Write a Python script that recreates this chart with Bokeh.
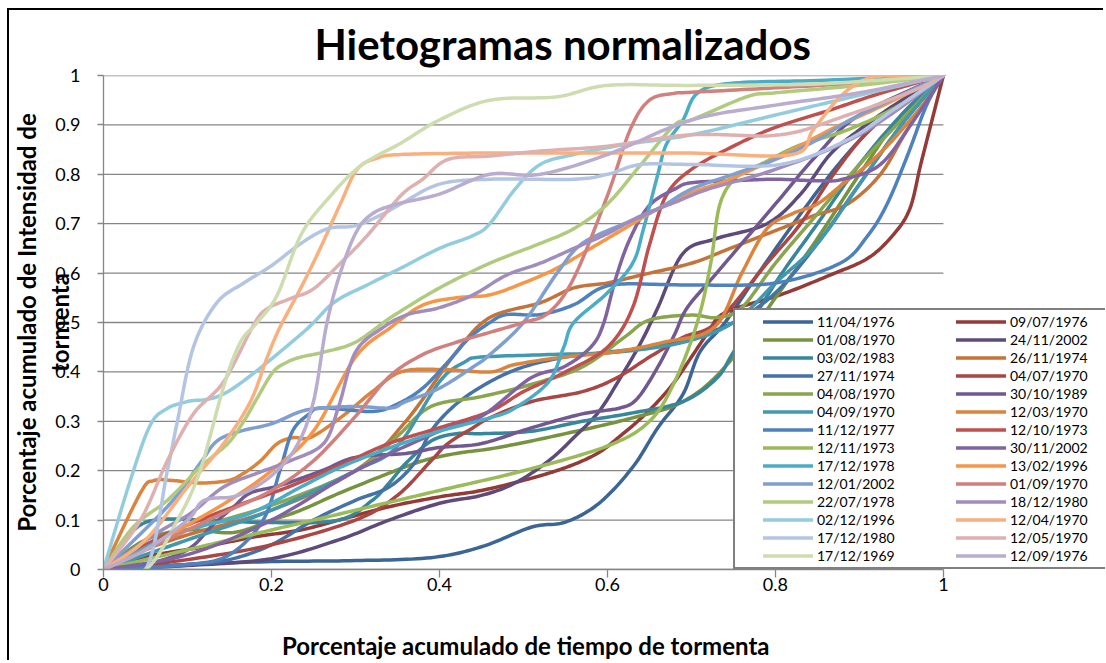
import numpy as np
from bokeh.plotting import figure
from bokeh.models import Range1d, FixedTicker, Legend, LegendItem
from bokeh.embed import file_html
from bokeh.resources import INLINE

TITLE = "Hietogramas normalizados"
X_LABEL = "Porcentaje acumulado de tiempo de tormenta"
Y_LABEL = "Porcentaje acumulado de Intensidad de\ntormenta"

x_ticks = [0, 0.2, 0.4, 0.6, 0.8, 1]
x_tick_labels = ["0", "0.2", "0.4", "0.6", "0.8", "1"]
y_ticks = [0, 0.1, 0.2, 0.3, 0.4, 0.5, 0.6, 0.7, 0.8, 0.9, 1]
y_tick_labels = ["0", "0.1", "0.2", "0.3", "0.4", "0.5", "0.6", "0.7", "0.8", "0.9", "1"]

# ---- series (storm date, colour, cumulative time, cumulative intensity) ----
x_s01 = [0, 0.05, 0.1, 0.2, 0.3, 0.39, 0.45, 0.51, 0.55, 0.59, 0.63, 0.66, 0.69, 0.71, 0.74, 0.78, 0.83, 0.88, 0.93, 0.97, 1]
y_s01 = [0, 0.005, 0.01, 0.016, 0.018, 0.024, 0.046, 0.086, 0.096, 0.134, 0.207, 0.287, 0.355, 0.44, 0.5, 0.6, 0.72, 0.83, 0.92, 0.97, 1]
x_s02 = [0, 0.05, 0.12, 0.18, 0.235, 0.28, 0.34, 0.4, 0.45, 0.51, 0.556, 0.59, 0.615, 0.636, 0.66, 0.68, 0.70, 0.72, 0.74, 0.806, 0.865, 0.91, 0.94, 0.96, 0.973, 0.988, 1]
y_s02 = [0, 0.026, 0.046, 0.066, 0.08, 0.10, 0.127, 0.147, 0.16, 0.185, 0.21, 0.237, 0.27, 0.30, 0.34, 0.38, 0.43, 0.48, 0.52, 0.556, 0.596, 0.63, 0.677, 0.73, 0.82, 0.92, 1]
x_s03 = [0, 0.05, 0.1, 0.155, 0.2, 0.235, 0.28, 0.34, 0.38, 0.42, 0.47, 0.55, 0.63, 0.69, 0.74, 0.8, 0.85, 0.9, 0.95, 1]
y_s03 = [0, 0.06, 0.08, 0.075, 0.1, 0.12, 0.154, 0.195, 0.22, 0.235, 0.247, 0.275, 0.307, 0.34, 0.41, 0.55, 0.67, 0.8, 0.92, 1]
x_s04 = [0, 0.1, 0.2, 0.28, 0.34, 0.4, 0.45, 0.49, 0.53, 0.56, 0.59, 0.615, 0.64, 0.66, 0.69, 0.73, 0.79, 0.83, 0.865, 0.9, 0.945, 1]
y_s04 = [0, 0.008, 0.022, 0.06, 0.10, 0.134, 0.15, 0.175, 0.22, 0.267, 0.32, 0.387, 0.46, 0.53, 0.64, 0.67, 0.70, 0.76, 0.84, 0.89, 0.944, 1]
x_s05 = [0, 0.03, 0.06, 0.12, 0.2, 0.28, 0.32, 0.34, 0.36, 0.39, 0.42, 0.45, 0.51, 0.57, 0.63, 0.69, 0.73, 0.75, 0.8, 0.85, 0.9, 0.95, 1]
y_s05 = [0, 0.07, 0.1, 0.1, 0.095, 0.1, 0.14, 0.175, 0.215, 0.26, 0.275, 0.275, 0.28, 0.30, 0.317, 0.34, 0.387, 0.44, 0.58, 0.7, 0.82, 0.92, 1]
x_s06 = [0, 0.05, 0.1, 0.2, 0.3, 0.36, 0.42, 0.46, 0.52, 0.56, 0.60, 0.64, 0.70, 0.746, 0.806, 0.845, 0.886, 0.925, 0.957, 1]
y_s06 = [0, 0.04, 0.07, 0.12, 0.2, 0.3, 0.44, 0.51, 0.54, 0.57, 0.58, 0.596, 0.62, 0.65, 0.69, 0.716, 0.74, 0.80, 0.89, 1]
x_s07 = [0, 0.1, 0.15, 0.2, 0.25, 0.3, 0.34, 0.37, 0.39, 0.42, 0.46, 0.5, 0.55, 0.6, 0.65, 0.7, 0.75, 0.8, 0.85, 0.9, 0.95, 1]
y_s07 = [0, 0.01, 0.02, 0.05, 0.1, 0.14, 0.167, 0.215, 0.28, 0.335, 0.38, 0.41, 0.43, 0.44, 0.45, 0.47, 0.5, 0.56, 0.66, 0.78, 0.9, 1]
x_s08 = [0, 0.1, 0.2, 0.3, 0.35, 0.39, 0.41, 0.44, 0.46, 0.51, 0.57, 0.61, 0.65, 0.69, 0.73, 0.79, 0.83, 0.865, 0.905, 0.945, 1]
y_s08 = [0, 0.02, 0.05, 0.1, 0.15, 0.22, 0.255, 0.287, 0.307, 0.34, 0.36, 0.387, 0.43, 0.47, 0.5, 0.62, 0.70, 0.79, 0.877, 0.935, 1]
x_s09 = [0, 0.05, 0.1, 0.2, 0.3, 0.35, 0.39, 0.45, 0.51, 0.57, 0.62, 0.65, 0.7, 0.73, 0.76, 0.8, 0.85, 0.9, 0.95, 1]
y_s09 = [0, 0.05, 0.08, 0.13, 0.2, 0.27, 0.33, 0.35, 0.375, 0.41, 0.47, 0.505, 0.515, 0.51, 0.53, 0.62, 0.72, 0.82, 0.91, 1]
x_s10 = [0, 0.05, 0.1, 0.13, 0.155, 0.175, 0.21, 0.26, 0.3, 0.36, 0.4, 0.45, 0.51, 0.57, 0.615, 0.636, 0.66, 0.68, 0.695, 0.73, 0.8, 0.85, 0.9, 1]
y_s10 = [0, 0.01, 0.04, 0.09, 0.127, 0.155, 0.17, 0.2, 0.227, 0.235, 0.247, 0.255, 0.287, 0.315, 0.327, 0.347, 0.41, 0.476, 0.53, 0.6, 0.74, 0.84, 0.92, 1]
x_s11 = [0, 0.05, 0.1, 0.2, 0.3, 0.35, 0.4, 0.43, 0.45, 0.53, 0.61, 0.69, 0.75, 0.8, 0.85, 0.9, 0.95, 1]
y_s11 = [0, 0.03, 0.06, 0.12, 0.2, 0.25, 0.38, 0.42, 0.43, 0.435, 0.44, 0.46, 0.5, 0.58, 0.66, 0.78, 0.9, 1]
x_s12 = [0, 0.044, 0.06, 0.083, 0.115, 0.148, 0.167, 0.187, 0.207, 0.226, 0.246, 0.282, 0.32, 0.354, 0.40, 0.46, 0.49, 0.548, 0.607, 0.667, 0.727, 0.76, 0.79, 0.82, 0.85, 0.88, 0.91, 0.94, 0.98, 1]
y_s12 = [0, 0.155, 0.18, 0.18, 0.175, 0.18, 0.195, 0.22, 0.255, 0.267, 0.267, 0.307, 0.36, 0.40, 0.405, 0.40, 0.415, 0.43, 0.44, 0.46, 0.49, 0.6, 0.69, 0.72, 0.74, 0.78, 0.82, 0.87, 0.95, 1]
x_s13 = [0, 0.1, 0.15, 0.19, 0.21, 0.225, 0.245, 0.26, 0.32, 0.35, 0.38, 0.41, 0.435, 0.46, 0.48, 0.52, 0.56, 0.59, 0.62, 0.7, 0.8, 0.877, 0.91, 0.933, 0.957, 0.98, 1]
y_s13 = [0, 0.01, 0.03, 0.1, 0.2, 0.28, 0.315, 0.327, 0.32, 0.335, 0.367, 0.42, 0.468, 0.5, 0.516, 0.516, 0.536, 0.568, 0.578, 0.576, 0.58, 0.62, 0.676, 0.74, 0.837, 0.94, 1]
x_s14 = [0, 0.05, 0.1, 0.16, 0.22, 0.28, 0.34, 0.4, 0.46, 0.5, 0.55, 0.6, 0.63, 0.65, 0.67, 0.7, 0.75, 0.8, 0.865, 0.925, 1]
y_s14 = [0, 0.05, 0.09, 0.13, 0.167, 0.21, 0.255, 0.287, 0.32, 0.36, 0.4, 0.45, 0.53, 0.657, 0.757, 0.81, 0.857, 0.895, 0.93, 0.964, 1]
x_s15 = [0, 0.1, 0.2, 0.3, 0.4, 0.5, 0.6, 0.65, 0.68, 0.707, 0.723, 0.734, 0.755, 0.786, 0.826, 0.886, 0.945, 1]
y_s15 = [0, 0.04, 0.08, 0.12, 0.16, 0.2, 0.25, 0.3, 0.38, 0.50, 0.62, 0.74, 0.797, 0.823, 0.857, 0.89, 0.937, 1]
x_s16 = [0, 0.1, 0.2, 0.3, 0.4, 0.45, 0.508, 0.548, 0.58, 0.595, 0.61, 0.627, 0.65, 0.68, 0.70, 0.75, 0.8, 0.85, 0.88, 0.925, 0.965, 1]
y_s16 = [0, 0.03, 0.1, 0.2, 0.28, 0.31, 0.387, 0.41, 0.45, 0.496, 0.59, 0.67, 0.737, 0.77, 0.783, 0.787, 0.79, 0.787, 0.79, 0.82, 0.91, 1]
x_s17 = [0, 0.076, 0.115, 0.175, 0.235, 0.282, 0.342, 0.40, 0.46, 0.49, 0.53, 0.548, 0.56, 0.6, 0.63, 0.643, 0.66, 0.67, 0.69, 0.707, 0.746, 0.85, 1]
y_s17 = [0, 0.066, 0.087, 0.114, 0.167, 0.207, 0.247, 0.28, 0.307, 0.327, 0.38, 0.45, 0.50, 0.56, 0.62, 0.69, 0.80, 0.86, 0.91, 0.964, 0.984, 0.99, 1]
x_s18 = [0, 0.05, 0.1, 0.15, 0.2, 0.25, 0.3, 0.342, 0.38, 0.42, 0.46, 0.5, 0.54, 0.58, 0.62, 0.66, 0.7, 0.746, 0.806, 0.865, 0.925, 1]
y_s18 = [0, 0.04, 0.09, 0.14, 0.2, 0.28, 0.43, 0.49, 0.535, 0.55, 0.556, 0.58, 0.61, 0.65, 0.69, 0.73, 0.763, 0.79, 0.837, 0.89, 0.937, 1]
x_s19 = [0, 0.076, 0.115, 0.135, 0.163, 0.2, 0.235, 0.262, 0.30, 0.342, 0.36, 0.40, 0.44, 0.46, 0.5, 0.54, 0.57, 0.62, 0.66, 0.70, 0.75, 0.8, 0.85, 0.9, 1]
y_s19 = [0, 0.127, 0.215, 0.26, 0.28, 0.295, 0.32, 0.327, 0.33, 0.327, 0.34, 0.367, 0.41, 0.435, 0.5, 0.6, 0.66, 0.70, 0.73, 0.77, 0.8, 0.83, 0.87, 0.92, 1]
x_s20 = [0, 0.05, 0.1, 0.15, 0.2, 0.25, 0.3, 0.34, 0.38, 0.42, 0.46, 0.5, 0.53, 0.56, 0.6, 0.627, 0.65, 0.68, 0.7, 0.8, 0.9, 1]
y_s20 = [0, 0.04, 0.08, 0.12, 0.16, 0.22, 0.31, 0.39, 0.435, 0.46, 0.48, 0.50, 0.52, 0.59, 0.757, 0.89, 0.95, 0.964, 0.966, 0.975, 0.985, 1]
x_s21 = [0, 0.036, 0.076, 0.115, 0.148, 0.167, 0.183, 0.202, 0.219, 0.235, 0.262, 0.30, 0.342, 0.40, 0.46, 0.52, 0.56, 0.60, 0.64, 0.68, 0.70, 0.766, 0.8, 0.9, 1]
y_s21 = [0, 0.087, 0.14, 0.207, 0.255, 0.30, 0.347, 0.40, 0.42, 0.43, 0.44, 0.46, 0.51, 0.57, 0.62, 0.66, 0.69, 0.74, 0.82, 0.90, 0.91, 0.957, 0.965, 0.98, 1]
x_s22 = [0, 0.064, 0.104, 0.143, 0.183, 0.222, 0.262, 0.28, 0.30, 0.333, 0.362, 0.40, 0.44, 0.48, 0.52, 0.56, 0.60, 0.64, 0.68, 0.72, 0.8, 0.9, 1]
y_s22 = [0, 0.074, 0.114, 0.167, 0.195, 0.22, 0.255, 0.33, 0.44, 0.49, 0.516, 0.53, 0.556, 0.596, 0.62, 0.65, 0.68, 0.716, 0.743, 0.77, 0.81, 0.88, 1]
x_s23 = [0, 0.03, 0.055, 0.075, 0.1, 0.148, 0.235, 0.274, 0.314, 0.354, 0.40, 0.44, 0.46, 0.49, 0.52, 0.56, 0.62, 0.70, 0.8, 0.9, 1]
y_s23 = [0, 0.17, 0.29, 0.325, 0.34, 0.36, 0.476, 0.54, 0.576, 0.61, 0.65, 0.676, 0.70, 0.77, 0.82, 0.84, 0.86, 0.88, 0.92, 0.96, 1]
x_s24 = [0, 0.05, 0.1, 0.143, 0.175, 0.195, 0.21, 0.235, 0.258, 0.282, 0.302, 0.326, 0.354, 0.45, 0.6, 0.7, 0.82, 0.845, 0.877, 0.91, 0.95, 1]
y_s24 = [0, 0.06, 0.167, 0.255, 0.34, 0.43, 0.49, 0.57, 0.65, 0.74, 0.81, 0.833, 0.84, 0.843, 0.843, 0.843, 0.84, 0.89, 0.957, 0.994, 1, 1]
x_s25 = [0, 0.05, 0.076, 0.088, 0.107, 0.135, 0.167, 0.20, 0.235, 0.267, 0.30, 0.333, 0.354, 0.40, 0.46, 0.56, 0.60, 0.64, 0.70, 0.806, 0.886, 0.94, 1]
y_s25 = [0, 0.0, 0.2, 0.30, 0.45, 0.54, 0.58, 0.615, 0.66, 0.69, 0.696, 0.72, 0.74, 0.78, 0.79, 0.79, 0.80, 0.82, 0.82, 0.82, 0.87, 0.93, 1]
x_s26 = [0, 0.044, 0.076, 0.107, 0.143, 0.179, 0.195, 0.222, 0.25, 0.282, 0.314, 0.354, 0.38, 0.41, 0.46, 0.52, 0.60, 0.70, 0.806, 0.886, 0.965, 1]
y_s26 = [0, 0.1, 0.22, 0.315, 0.38, 0.496, 0.528, 0.548, 0.568, 0.62, 0.676, 0.757, 0.79, 0.83, 0.837, 0.847, 0.857, 0.88, 0.88, 0.92, 0.97, 1]
x_s27 = [0, 0.05, 0.088, 0.115, 0.143, 0.163, 0.183, 0.207, 0.235, 0.267, 0.306, 0.354, 0.40, 0.46, 0.54, 0.60, 0.70, 0.85, 1]
y_s27 = [0, 0, 0.1, 0.2, 0.37, 0.46, 0.5, 0.556, 0.677, 0.75, 0.817, 0.863, 0.91, 0.95, 0.957, 0.98, 0.98, 0.983, 1]
x_s28 = [0, 0.05, 0.1, 0.12, 0.16, 0.2, 0.23, 0.25, 0.265, 0.28, 0.3, 0.32, 0.35, 0.4, 0.46, 0.52, 0.6, 0.7, 0.8, 0.9, 1]
y_s28 = [0, 0.04, 0.1, 0.14, 0.15, 0.19, 0.25, 0.34, 0.49, 0.59, 0.68, 0.72, 0.74, 0.76, 0.80, 0.80, 0.84, 0.91, 0.94, 0.965, 1]

names = ["11/04/1976", "09/07/1976", "01/08/1970", "24/11/2002", "03/02/1983", "26/11/1974",
         "27/11/1974", "04/07/1970", "04/08/1970", "30/10/1989", "04/09/1970", "12/03/1970",
         "11/12/1977", "12/10/1973", "12/11/1973", "30/11/2002", "17/12/1978", "13/02/1996",
         "12/01/2002", "01/09/1970", "22/07/1978", "18/12/1980", "02/12/1996", "12/04/1970",
         "17/12/1980", "12/05/1970", "17/12/1969", "12/09/1976"]
colors = ["#3B6594", "#943A37", "#77933F", "#5E4A7B", "#37869C", "#C4743A",
          "#4572A7", "#AA4643", "#89A54E", "#71588F", "#4198AF", "#DB843D",
          "#4F81BD", "#C0504D", "#9BBB59", "#8064A2", "#4BACC6", "#F79646",
          "#7F9FD0", "#D0817E", "#B1CB7E", "#A08DBD", "#93CDDD", "#F9B07E",
          "#B3C5E2", "#DEB0AF", "#CDDDB0", "#B9ACCF"]
xs_all = [x_s01, x_s02, x_s03, x_s04, x_s05, x_s06, x_s07, x_s08, x_s09, x_s10, x_s11, x_s12, x_s13, x_s14,
          x_s15, x_s16, x_s17, x_s18, x_s19, x_s20, x_s21, x_s22, x_s23, x_s24, x_s25, x_s26, x_s27, x_s28]
ys_all = [y_s01, y_s02, y_s03, y_s04, y_s05, y_s06, y_s07, y_s08, y_s09, y_s10, y_s11, y_s12, y_s13, y_s14,
          y_s15, y_s16, y_s17, y_s18, y_s19, y_s20, y_s21, y_s22, y_s23, y_s24, y_s25, y_s26, y_s27, y_s28]


def smooth(x, y, n=14):
    """Excel-style smoothed line (Bezier through every point)."""
    P = np.column_stack([np.asarray(x, float), np.asarray(y, float)])
    out = [P[0]]
    t = np.linspace(0, 1, n + 1)[1:, None]
    for i in range(len(P) - 1):
        p0 = P[i - 1] if i > 0 else P[i]
        p1, p2 = P[i], P[i + 1]
        p3 = P[i + 2] if i + 2 < len(P) else P[i + 1]
        c1 = p1 + (p2 - p0) / 6.0
        c2 = p2 - (p3 - p1) / 6.0
        seg = (1 - t) ** 3 * p1 + 3 * (1 - t) ** 2 * t * c1 + 3 * (1 - t) * t ** 2 * c2 + t ** 3 * p2
        out.extend(seg)
    out = np.array(out)
    return out[:, 0], out[:, 1]


GRID = "#868686"
FONT = "Lato"

# The plot area spans 0..1 on x; the frame is widened to the right so the
# legend (which Excel lets overhang the plot area) can be drawn there.
p = figure(width=1096, height=652, x_range=Range1d(0, 1.193), y_range=Range1d(0, 1),
           output_backend="svg", toolbar_location=None,
           min_border_left=94, min_border_right=0, min_border_top=61, min_border_bottom=92)
p.styles = {"margin-left": "7px", "margin-top": "8px",
            "border-left": "2px solid black", "border-top": "2px solid black"}
p.outline_line_color = None
p.background_fill_color = "white"
p.border_fill_color = "white"

p.title.text = TITLE
p.title.text_font = FONT
p.title.text_font_size = "42px"
p.title.text_font_style = "bold"
p.title.text_color = "black"
p.title.align = "left"
p.title.offset = 211
p.title.standoff = 13

# horizontal gridlines, limited to the 0..1 plot area
p.xgrid.visible = False
p.ygrid.visible = False
p.segment(x0=[x_ticks[0]] * len(y_ticks), x1=[x_ticks[-1]] * len(y_ticks), y0=y_ticks, y1=y_ticks,
          line_color=GRID, line_width=1.3, level="underlay")

renderers = []
for xs, ys, c in zip(xs_all, ys_all, colors):
    sx, sy = smooth(xs, ys)
    r = p.line(sx, sy, line_color=c, line_width=3.5, line_join="round", line_cap="round")
    renderers.append(r)

# axes
p.xaxis.ticker = FixedTicker(ticks=x_ticks)
p.xaxis.major_label_overrides = dict(zip(x_ticks, x_tick_labels))
p.xaxis.bounds = (x_ticks[0], x_ticks[-1])
p.yaxis.ticker = FixedTicker(ticks=y_ticks)
p.yaxis.major_label_overrides = dict(zip(y_ticks, y_tick_labels))
for ax in (p.xaxis, p.yaxis):
    ax.axis_line_color = GRID
    ax.axis_line_width = 1.3
    ax.major_tick_line_color = GRID
    ax.major_tick_line_width = 1.3
    ax.major_tick_in = 0
    ax.minor_tick_line_color = None
    ax.major_label_text_font = FONT
    ax.major_label_text_font_size = "18px"
    ax.major_label_text_color = "black"
    ax.axis_label_text_font = FONT
    ax.axis_label_text_font_size = "24px"
    ax.axis_label_text_font_style = "bold"
    ax.axis_label_text_color = "black"

p.xaxis.major_tick_out = 8
p.xaxis.major_label_standoff = 0
# the label is centred on the widened frame; trailing no-break spaces move the
# visible words back to the centre of the 0..1 plot area, as in the original
p.xaxis.axis_label = X_LABEL + "\u00a0" * 27
p.xaxis.axis_label_standoff = 37

p.yaxis.major_tick_out = 6
p.yaxis.major_label_standoff = 17
p.yaxis.axis_label = Y_LABEL
p.yaxis.axis_label_standoff = -22
p.yaxis.axis_label_text_line_height = 1.15

# legend: Excel fills the two columns row by row; Bokeh fills column by column
order = list(range(0, len(names), 2)) + list(range(1, len(names), 2))
items = [LegendItem(label=names[i], renderers=[renderers[i]]) for i in order]
leg_kw = dict(items=items, ncols=2, location=(630, 0),
              glyph_width=50, glyph_height=17, label_height=17, label_width=138,
              spacing=1, padding=3, label_standoff=4, margin=0,
              label_text_font=FONT, label_text_font_size="14px", label_text_color="black",
              border_line_color="black", border_line_width=2,
              background_fill_color="white", background_fill_alpha=1.0)
if "title_location" in Legend.properties():
    # blank side title: gives the box the wide left margin Excel draws
    leg_kw.update(title=" ", title_location="left", title_standoff=9,
                  title_text_font_size="14px")
leg = Legend(**leg_kw)
p.add_layout(leg, "center")

open("out.html", "w").write(file_html(p, INLINE))
